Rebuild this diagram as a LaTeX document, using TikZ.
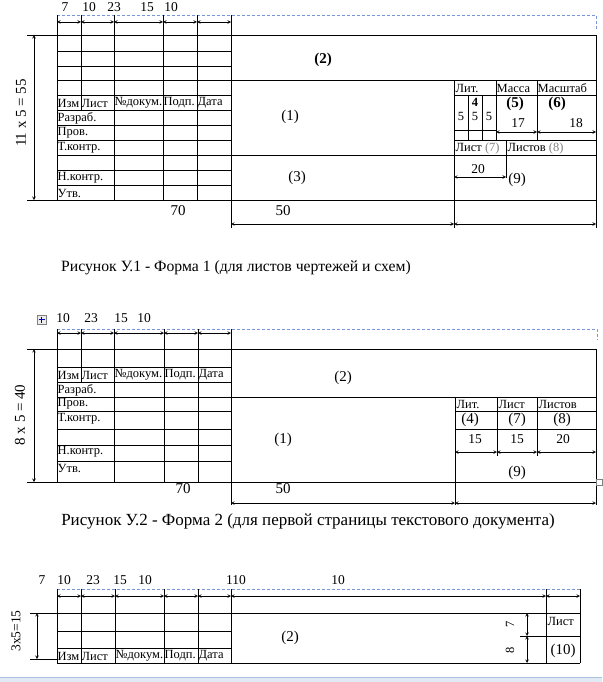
\documentclass[tikz,border=0pt]{standalone}
\usepackage{fontspec}
\setmainfont{Liberation Serif}
\definecolor{guide}{RGB}{120,150,215}
\definecolor{uiband}{RGB}{224,233,244}
\definecolor{uiedge}{RGB}{170,195,225}
\begin{document}
\begin{tikzpicture}[x=1pt,y=-1pt,
  ln/.style={line width=0.9pt},
  extln/.style={line width=0.6pt},
  dimln/.style={line width=0.6pt,stealth-stealth},
  guideln/.style={guide,densely dashed,line width=0.6pt},
  tab/.style={font=\fontsize{12.5}{12.5}\selectfont,inner sep=0.5pt,anchor=west},
  num/.style={font=\fontsize{13.5}{13.5}\selectfont,inner sep=0pt},
  lab/.style={font=\fontsize{15}{15}\selectfont,inner sep=0pt},
  captxt/.style={font=\fontsize{15.7}{15.7}\selectfont,inner sep=0pt}]
\useasboundingbox (0,0) rectangle (602,682);
\fill[uiband] (0,677) rectangle (602,682);
\draw[uiedge] (0,677)--(602,677);
\draw[guideln] (57,15)--(596,15)--(596,30);
\foreach \lx/\t [count=\i] in {65/7,89/10,114/23,147/15,171/10}{\node[num](ta\i) at (\lx,7){\t};}
\foreach \a/\b in {57/81,81/114,114/163,163/197,197/231}{\draw[dimln](\a,22)--(\b,22);}
\foreach \x in {57,114,163,197,231}{\draw[ln](\x,15)--(\x,200);}
\draw[ln](81,15)--(81,110);
\foreach \y in {51,66,95,110,125,140,170,185}{\draw[ln](57,\y)--(231,\y);}
\foreach \y in {35,80,155,200}{\draw[ln](57,\y)--(596,\y);}
\draw[ln](454,95)--(596,95) (454,140)--(596,140) (454,130)--(496,130);
\draw[ln](596,35)--(596,200) (454,80)--(454,200);
\draw[ln](468,95)--(468,140) (482,95)--(482,140) (496,80)--(496,140) (537,80)--(537,140) (506,140)--(506,155);
\draw[extln](231,200)--(231,228) (454,200)--(454,228) (596,200)--(596,228) (506,155)--(506,178);
\draw[extln](27,35)--(57,35) (27,200)--(57,200);
\draw[dimln](34,35)--(34,200);
\node[lab,rotate=90](ha) at (21,113){11 x 5 = 55};
\node[tab](a1) at (57,103){Изм};
\node[tab](a2) at (81,103){Лист};
\node[tab](a3) at (114,103){№докум.};
\node[tab](a4) at (163,103){Подп.};
\node[tab](a5) at (197,103){Дата};
\foreach \y/\t [count=\i] in {118/Разраб.,133/Пров.,148/Т.контр.,178/Н.контр.,193/Утв.}{\node[tab](ra\i) at (57,\y){\t};}
\node[lab,font=\bfseries\fontsize{15}{15}\selectfont](fa2) at (323,60){(2)};
\node[lab](fa1) at (290,117){(1)};
\node[lab](fa3) at (297,178){(3)};
\node[tab](lita) at (455,88){Лит.};
\node[tab](massa) at (496,88){Масса};
\node[tab](mashtab) at (537,88){Масштаб};
\node[lab,font=\bfseries\fontsize{12.5}{12.5}\selectfont](lit4) at (475,102){4};
\foreach \x [count=\i] in {461,475,489}{\node[num,font=\fontsize{12.5}{12.5}\selectfont](lit5\i) at (\x,116){5};}
\node[lab,font=\bfseries\fontsize{15}{15}\selectfont](fa5) at (515,104){(5)};
\node[lab,font=\bfseries\fontsize{15}{15}\selectfont](fa6) at (557,104){(6)};
\draw[dimln](496,132)--(537,132);
\draw[dimln](537,132)--(596,132);
\node[num](d17) at (518,123){17};
\node[num](d18) at (576,123){18};
\node[tab](lista) at (455,148){Лист \textcolor{gray}{(7)}};
\node[tab](listova) at (507,148){Листов \textcolor{gray}{(8)}};
\draw[dimln](454,177)--(506,177);
\node[num](d20) at (478,169){20};
\node[lab](fa9) at (517,180){(9)};
\node[lab](d70a) at (178,211){70};
\node[lab](d50a) at (283,211){50};
\draw[dimln](231,224)--(454,224);
\draw[dimln](454,224)--(596,224);
\node[captxt](capa) at (236,268){Рисунок У.1 - Форма 1 (для листов чертежей и схем)};
\draw[gray,fill=gray!15,line width=0.4pt](37,315) rectangle (46,324);
\draw[blue!70!black,line width=0.5pt](38.5,319.5)--(44.5,319.5) (41.5,316.5)--(41.5,322.5);
\foreach \lx/\t [count=\i] in {63/10,91/23,121/15,144/10}{\node[num](tb\i) at (\lx,318){\t};}
\draw[guideln] (57,329)--(597,329)--(597,340);
\foreach \a/\b in {57/81,81/114,114/164,164/198,198/231}{\draw[dimln](\a,333)--(\b,333);}
\foreach \x in {57,114,164,198,231}{\draw[ln](\x,329)--(\x,482);}
\draw[ln](81,329)--(81,382);
\foreach \y in {367,382,411,429,445,461}{\draw[ln](57,\y)--(231,\y);}
\foreach \y in {349,397,482}{\draw[ln](57,\y)--(596,\y);}
\draw[ln](455,411)--(596,411) (455,429)--(596,429);
\draw[ln](596,349)--(596,482) (455,397)--(455,482) (497,397)--(497,429) (537,397)--(537,429);
\draw[extln](497,429)--(497,456) (537,429)--(537,456);
\draw[extln](231,482)--(231,505) (455,482)--(455,505) (596,482)--(596,505);
\draw[extln](27,349)--(57,349) (27,482)--(57,482);
\draw[dimln](34,349)--(34,482);
\node[lab,rotate=90](hb) at (20,415){8 x 5 = 40};
\node[tab](b1) at (57,375){Изм};
\node[tab](b2) at (81,375){Лист};
\node[tab](b3) at (114,375){№докум.};
\node[tab](b4) at (164,375){Подп.};
\node[tab](b5) at (198,375){Дата};
\foreach \y/\t [count=\i] in {390/Разраб.,404/Пров.,419/Т.контр.,452/Н.контр.,468/Утв.}{\node[tab](rb\i) at (57,\y){\t};}
\node[lab](fb2) at (343,378){(2)};
\node[lab](fb1) at (283,440){(1)};
\node[tab](litb) at (456,404){Лит.};
\node[tab](listb) at (498,404){Лист};
\node[tab](listovb) at (538,404){Листов};
\node[lab](fb4) at (470,420){(4)};
\node[lab](fb7) at (517,420){(7)};
\node[lab](fb8) at (562,420){(8)};
\node[num](d15a) at (475,439){15};
\node[num](d15b) at (517,439){15};
\node[num](d20b) at (563,439){20};
\draw[dimln](455,452)--(497,452);
\draw[dimln](497,452)--(537,452);
\draw[dimln](537,452)--(596,452);
\node[lab](fb9) at (517,473){(9)};
\node[lab](d70b) at (183,489){70};
\node[lab](d50b) at (283,489){50};
\draw[dimln](231,503)--(455,503);
\draw[dimln](455,503)--(596,503);
\draw[gray,line width=0.4pt](596,479) rectangle (602,485);
\node[captxt,font=\fontsize{17}{17}\selectfont](capb) at (308,521){Рисунок У.2 - Форма 2 (для первой страницы текстового документа)};
\foreach \lx/\t [count=\i] in {42/7,64/10,93/23,120/15,145/10,236/110,338/10}{\node[num](tc\i) at (\lx,580){\t};}
\draw[guideln] (57,589)--(580,589);
\foreach \a/\b in {57/81,81/115,115/164,164/198,198/231,231/546,546/580}{\draw[dimln](\a,596)--(\b,596);}
\foreach \x in {57,81,115,164,198,231,546,580}{\draw[ln](\x,589)--(\x,663);}
\foreach \y in {631,648}{\draw[ln](57,\y)--(231,\y);}
\foreach \y in {613,663}{\draw[ln](57,\y)--(580,\y);}
\draw[ln](546,636)--(580,636);
\draw[extln](30,613)--(57,613) (30,659)--(57,659) (520,636)--(546,636);
\draw[dimln](37,613)--(37,659);
\node[num,rotate=90](hc) at (16,631){3x5=15};
\draw[dimln](527,613)--(527,636);
\draw[dimln](527,636)--(527,663);
\node[num,font=\fontsize{12.5}{12.5}\selectfont,rotate=90](d7c) at (510,624){7};
\node[num,font=\fontsize{12.5}{12.5}\selectfont,rotate=90](d8c) at (510,650){8};
\node[tab](c1) at (57,656){Изм};
\node[tab](c2) at (81,656){Лист};
\node[tab](c3) at (115,656){№докум.};
\node[tab](c4) at (164,656){Подп.};
\node[tab](c5) at (198,656){Дата};
\node[lab](fc2) at (290,638){(2)};
\node[tab](listc) at (547,621){Лист};
\node[lab](fc10) at (563,651){(10)};
\end{tikzpicture}
\end{document}
